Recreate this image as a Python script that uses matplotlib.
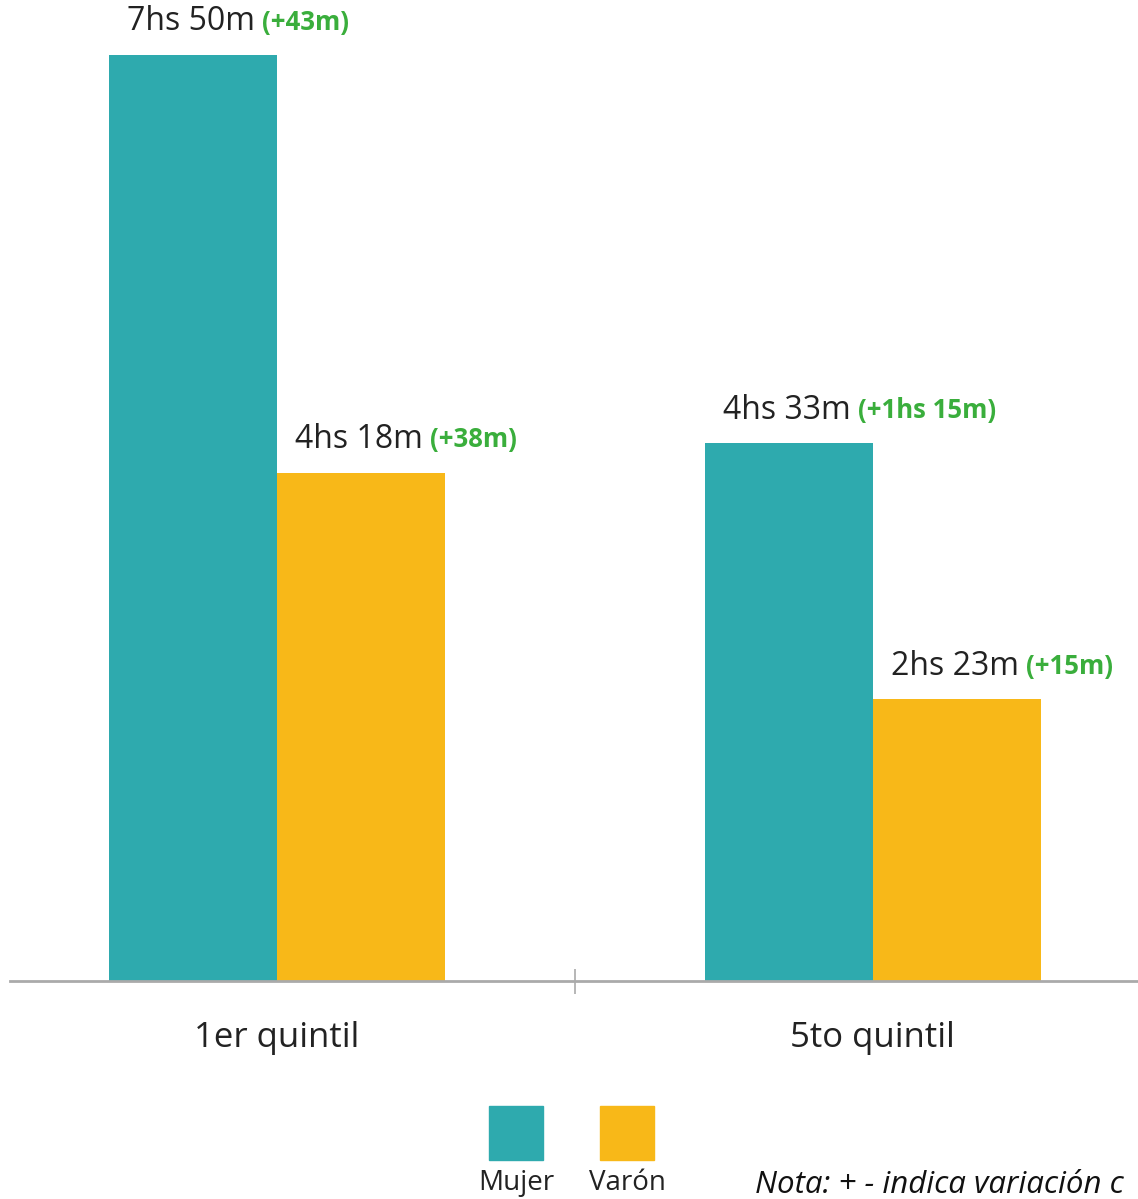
import matplotlib
matplotlib.use("Agg")
import matplotlib.pyplot as plt
from matplotlib.patches import Rectangle

plt.rcParams['font.family'] = ['Open Sans', 'DejaVu Sans']

# minutes per day
categories = ["1er quintil", "5to quintil"]
mujer = [470, 273]
varon = [258, 143]
mujer_var = [43, 75]
varon_var = [38, 15]
series_names = ["Mujer", "Varón"]
nota = "Nota: + - indica variación c"

teal = "#2EAAAE"
yellow = "#F8B818"
green = "#3AAE3C"
grey = "#AAAAAA"


def fmt(m):
    h, mm = divmod(m, 60)
    if h == 0:
        return "%dm" % mm
    return "%dhs %dm" % (h, mm)


fig = plt.figure(figsize=(11.38, 11.99), dpi=100)
ax = fig.add_axes([10 / 1138, 218 / 1199, 1 - 10 / 1138, 981 / 1199])

x = [0, 1]
w = 0.282
b1 = ax.bar([i - w / 2 for i in x], mujer, w, color=teal)
b2 = ax.bar([i + w / 2 for i in x], varon, w, color=yellow)

ax.set_xlim(-0.448, 1.445)
ax.set_ylim(0, 498)

for bars, vals, diffs in [(b1, mujer, mujer_var), (b2, varon, varon_var)]:
    for r, v, d in zip(bars, vals, diffs):
        t = ax.annotate(fmt(v), xy=(r.get_x(), r.get_height()), xytext=(13, 12),
                        textcoords="offset points", ha="left", va="bottom",
                        fontsize=23, color="#222222")
        ax.annotate("(+%s)" % fmt(d), xy=(1, 0), xycoords=t, xytext=(5, 2),
                    textcoords="offset points", ha="left", va="bottom",
                    fontsize=18.5, color=green, fontweight="bold")

for s in ["top", "right", "left"]:
    ax.spines[s].set_visible(False)
ax.spines["bottom"].set_color(grey)
ax.spines["bottom"].set_linewidth(2)
ax.set_yticks([])
ax.set_xticks(x)
ax.set_xticklabels(categories, fontsize=25, color="#222222")
ax.tick_params(axis="x", which="major", length=0, pad=29)
ax.set_xticks([0.5], minor=True)
ax.tick_params(axis="x", which="minor", direction="inout", length=18,
               width=1.2, color=grey)

# legend
for cx, c, name in [(516, teal, series_names[0]), (627, yellow, series_names[1])]:
    fig.add_artist(Rectangle(((cx - 27) / 1138, (1199 - 1160) / 1199), 54 / 1138, 54 / 1199,
                             transform=fig.transFigure, color=c))
    fig.text(cx / 1138, (1199 - 1183) / 1199, name, ha="center", va="center",
             fontsize=20, color="#222222")

fig.text(755 / 1138, (1199 - 1185) / 1199, nota,
         ha="left", va="center", fontsize=22.5, style="italic", color="#111111")

fig.savefig("out.png", dpi=100)
